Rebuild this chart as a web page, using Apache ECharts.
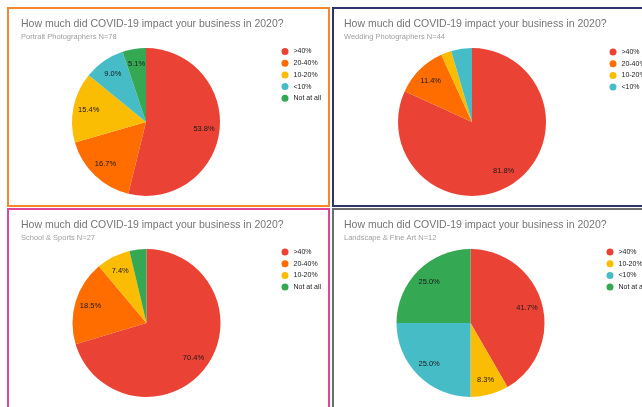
<!DOCTYPE html>
<html>
<head>
<meta charset="utf-8">
<script src="https://cdn.jsdelivr.net/npm/echarts@6/dist/echarts.min.js"></script>
<style>
body { margin:0; background:#fff; width:642px; height:407px; overflow:hidden; position:relative; }
.panel { position:absolute; box-sizing:border-box; border:2px solid; background:#fff; }
.chart { width:100%; height:100%; }
</style>
</head>
<body>
<div class="panel" style="left:7px;top:7px;width:323px;height:200px;border-color:#f4872f"><div class="chart" id="c1"></div></div>
<div class="panel" style="left:332px;top:7px;width:313px;height:200px;border-color:#2c3566"><div class="chart" id="c2"></div></div>
<div class="panel" style="left:7px;top:208px;width:323px;height:204px;border-color:#e0449a"><div class="chart" id="c3"></div></div>
<div class="panel" style="left:332px;top:208px;width:313px;height:204px;border-color:#6d6d6d"><div class="chart" id="c4"></div></div>
<script>
var chartTitle = 'How much did COVID-19 impact your business in 2020?';

var portraitCats = ['>40%', '20-40%', '10-20%', '<10%', 'Not at all'];
var portraitCounts = [42, 13, 12, 7, 4];

var weddingCats = ['>40%', '20-40%', '10-20%', '<10%'];
var weddingCounts = [36, 5, 1, 2];

var schoolCats = ['>40%', '20-40%', '10-20%', 'Not at all'];
var schoolCounts = [19, 5, 2, 1];

var landscapeCats = ['>40%', '10-20%', '<10%', 'Not at all'];
var landscapeCounts = [5, 1, 3, 3];

// google sheets colours
var colorMap = {
    '>40%': '#ea4335',
    '20-40%': '#ff6d01',
    '10-20%': '#fbbc04',
    '<10%': '#46bdc6',
    'Not at all': '#34a853'
};

var font = 'Liberation Sans, Arial, sans-serif';

function showPie(domId, subtitle, cats, counts, pos) {
    var myChart = echarts.init(document.getElementById(domId));
    var total = counts.reduce(function (a, b) { return a + b; }, 0);
    var data = cats.map(function (c, i) {
        return { name: c, value: counts[i], itemStyle: { color: colorMap[c] } };
    });
    var labelData = cats.map(function (c, i) {
        return { name: c, value: counts[i], itemStyle: { color: 'rgba(0,0,0,0)' } };
    });

    var option = {
        animation: false,
        title: {
            text: chartTitle,
            subtext: subtitle,
            left: pos.titleX,
            top: pos.titleY,
            padding: 0,
            itemGap: 3,
            textStyle: { fontSize: 10.5, fontWeight: 'normal', color: '#757575', fontFamily: font },
            subtextStyle: { fontSize: 7.5, color: '#a0a0a0', fontFamily: font }
        },
        legend: {
            orient: 'vertical',
            left: pos.legendX,
            top: pos.legendY,
            padding: 0,
            icon: 'circle',
            itemWidth: 7,
            itemHeight: 7,
            itemGap: 4.7,
            textStyle: { fontSize: 7, color: '#222', fontFamily: font },
            data: cats
        },
        series: [
            {
                type: 'pie',
                center: [pos.cx, pos.cy],
                radius: [0, 74],
                startAngle: 90,
                clockwise: true,
                silent: true,
                label: { show: false },
                labelLine: { show: false },
                data: data
            },
            {
                // label ring so labels sit about 3/4 of the way out
                type: 'pie',
                center: [pos.cx, pos.cy],
                radius: [37, 74],
                startAngle: 90,
                clockwise: true,
                silent: true,
                label: {
                    show: true,
                    position: 'inside',
                    fontSize: 7.5,
                    color: '#1a1a1a',
                    fontFamily: font,
                    formatter: function (p) {
                        var pct = p.value / total * 100;
                        if (pct < 5) return '';
                        return pct.toFixed(1) + '%';
                    }
                },
                labelLine: { show: false },
                data: labelData
            }
        ]
    };
    myChart.setOption(option);
    return option;
}

showPie('c1', 'Portrait Photographers N=78', portraitCats, portraitCounts,
    { titleX: 12, titleY: 10, legendX: 272.5, legendY: 39, cx: 137, cy: 113 });
showPie('c2', 'Wedding Photographers N=44', weddingCats, weddingCounts,
    { titleX: 10, titleY: 10, legendX: 275.5, legendY: 39.5, cx: 138, cy: 113 });
showPie('c3', 'School & Sports N=27', schoolCats, schoolCounts,
    { titleX: 12, titleY: 9.5, legendX: 272.5, legendY: 38.5, cx: 137.5, cy: 113 });
showPie('c4', 'Landscape & Fine Art N=12', landscapeCats, landscapeCounts,
    { titleX: 10, titleY: 9.5, legendX: 272.5, legendY: 38.5, cx: 136.5, cy: 113 });
</script>
</body>
</html>
